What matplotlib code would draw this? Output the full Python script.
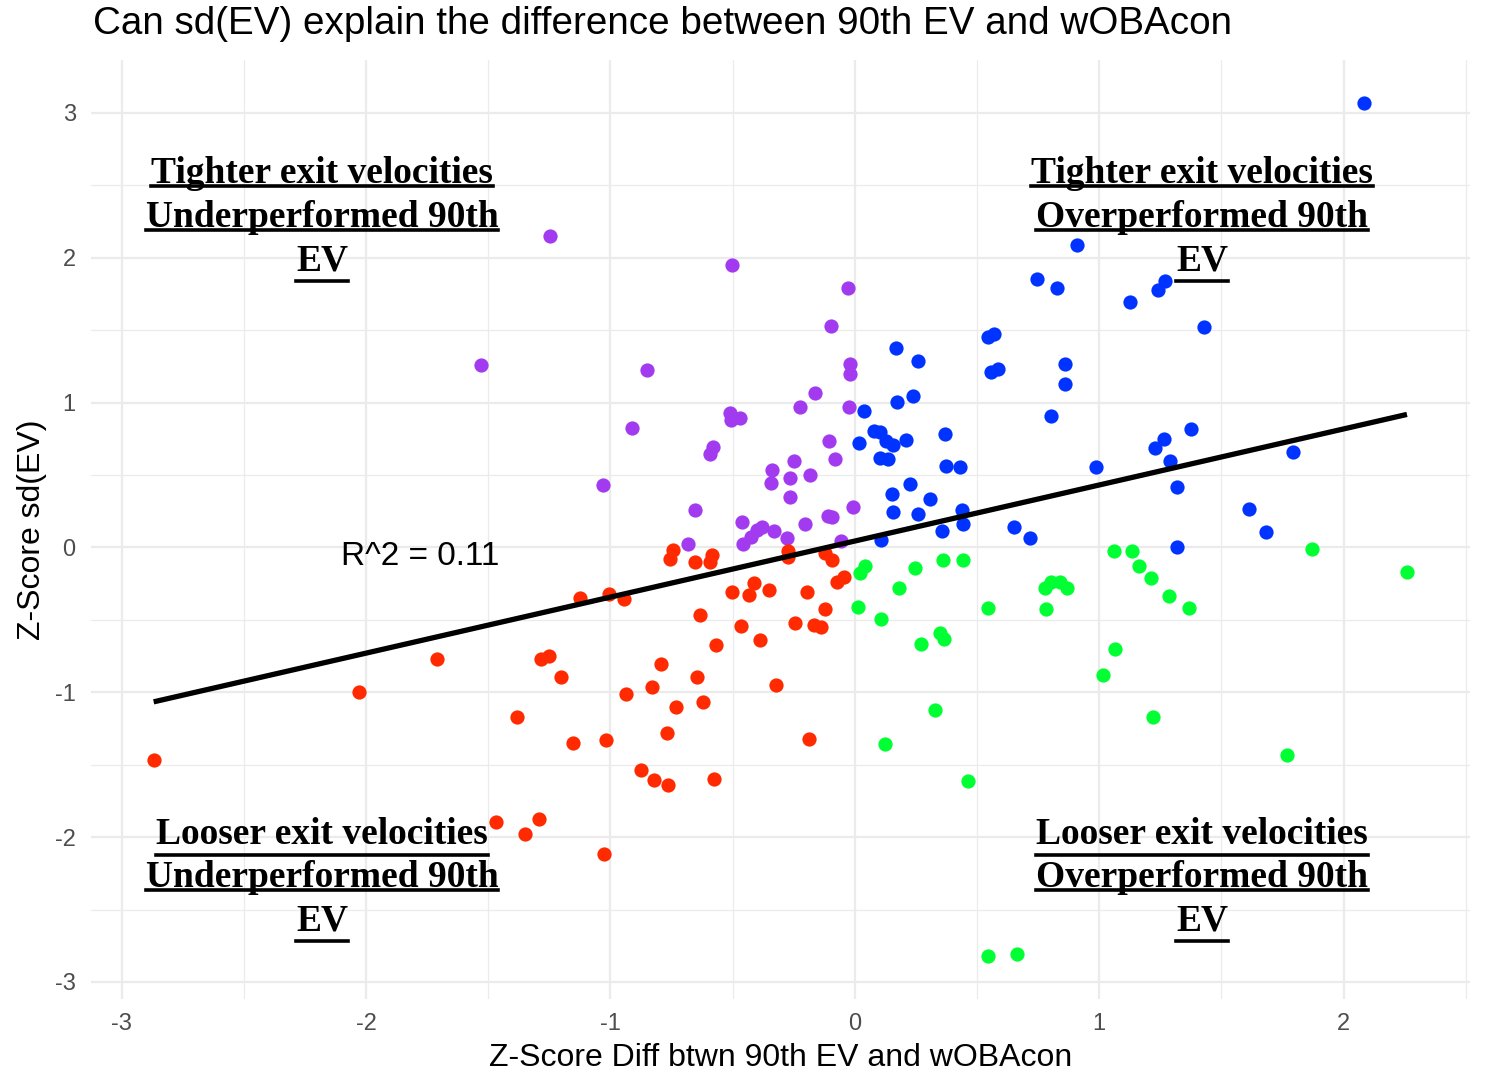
import matplotlib.pyplot as plt
from matplotlib.lines import Line2D
import numpy as np

plt.rcParams['axes.unicode_minus'] = False

# points, one group per quadrant colour
purple_x = [-1.246, -0.504, -0.029, -1.529, -0.098, -0.852, -0.020, -0.020, -0.910, -0.512,
            -0.508, -0.471, -0.164, -0.225, -0.025, -0.582, -0.594, -0.107, -0.340, -0.250,
            -0.082, -1.029, -0.184, -0.344, -0.266, -0.656, -0.266, -0.008, -0.463, -0.205,
            -0.111, -0.094, -0.332, -0.381, -0.402, -0.426, -0.459, -0.279, -0.684, -0.057]
purple_y = [2.152, 1.950, 1.793, 1.261, 1.530, 1.226, 1.268, 1.199, 0.826, 0.929,
            0.881, 0.894, 1.067, 0.971, 0.971, 0.694, 0.646, 0.736, 0.535, 0.597,
            0.611, 0.431, 0.500, 0.445, 0.480, 0.259, 0.348, 0.279, 0.175, 0.162,
            0.217, 0.210, 0.113, 0.141, 0.120, 0.072, 0.023, 0.065, 0.023, 0.044]

blue_x = [2.082, 0.258, 0.910, 0.746, 0.828, 1.127, 1.242, 1.270, 1.430, 0.168,
          0.545, 0.570, 0.557, 0.586, 0.861, 0.861, 0.238, 0.172, 0.037, 0.803,
          0.078, 0.102, 0.016, 0.127, 0.156, 0.209, 0.369, 1.377, 1.266, 1.230,
          1.791, 0.102, 0.135, 0.373, 0.430, 0.988, 1.291, 0.225, 1.320, 0.152,
          0.307, 0.156, 0.258, 0.439, 0.443, 0.357, 0.652, 0.717, 1.611, 1.684,
          0.107, 1.320]
blue_y = [3.071, 1.288, 2.091, 1.856, 1.794, 1.697, 1.780, 1.842, 1.523, 1.378,
          1.454, 1.475, 1.212, 1.233, 1.268, 1.129, 1.046, 1.005, 0.943, 0.908,
          0.805, 0.798, 0.722, 0.736, 0.708, 0.742, 0.784, 0.819, 0.749, 0.687,
          0.659, 0.619, 0.611, 0.563, 0.556, 0.556, 0.597, 0.438, 0.417, 0.369,
          0.335, 0.245, 0.231, 0.258, 0.162, 0.113, 0.141, 0.065, 0.265, 0.106,
          0.051, 0.003]

red_x = [-2.869, -2.029, -1.708, -1.383, -1.284, -1.253, -1.201, -1.153, -1.123, -1.469,
         -1.348, -1.291, -1.026, -1.007, -0.945, -0.743, -0.757, -0.656, -0.583, -0.593,
         -0.632, -0.570, -0.792, -0.645, -0.829, -0.936, -0.731, -0.622, -0.769, -1.020,
         -0.876, -0.822, -0.765, -0.577, -0.501, -0.433, -0.413, -0.351, -0.467, -0.388,
         -0.272, -0.273, -0.194, -0.245, -0.167, -0.139, -0.123, -0.321, -0.189, -0.122,
         -0.095, -0.044, -0.074]
red_y = [-1.469, -0.997, -0.771, -1.170, -0.773, -0.751, -0.894, -1.347, -0.352, -1.896,
         -1.979, -1.877, -2.120, -0.322, -0.357, -0.018, -0.078, -0.103, -0.053, -0.103,
         -0.467, -0.675, -0.808, -0.894, -0.967, -1.011, -1.105, -1.064, -1.278, -1.331,
         -1.538, -1.603, -1.642, -1.596, -0.306, -0.329, -0.244, -0.294, -0.545, -0.640,
         -0.023, -0.064, -0.308, -0.520, -0.538, -0.548, -0.428, -0.953, -1.326, -0.041,
         -0.087, -0.202, -0.241]

green_x = [1.059, 1.134, 1.869, 2.259, 1.164, 1.211, 1.284, 1.369, 0.019, 0.041,
           0.248, 0.361, 0.441, 0.181, 0.014, 0.109, 0.544, 0.780, 0.803, 0.838,
           0.870, 0.781, 0.350, 0.366, 0.272, 1.063, 1.014, 0.328, 1.220, 0.123,
           1.769, 0.461, 0.545, 0.663]
green_y = [-0.028, -0.028, -0.014, -0.168, -0.129, -0.214, -0.334, -0.417, -0.180, -0.129,
           -0.145, -0.085, -0.088, -0.283, -0.412, -0.493, -0.419, -0.281, -0.242, -0.237,
           -0.281, -0.422, -0.588, -0.629, -0.668, -0.698, -0.882, -1.120, -1.171, -1.359,
           -1.431, -1.615, -2.823, -2.809]

quad_labels = [
    ["Tighter exit velocities", "Underperformed 90th", "EV"],
    ["Tighter exit velocities", "Overperformed 90th", "EV"],
    ["Looser exit velocities", "Underperformed 90th", "EV"],
    ["Looser exit velocities", "Overperformed 90th", "EV"],
]

fig = plt.figure(figsize=(14.92, 10.9), dpi=100)
ax = fig.add_axes([0.061, 0.0835, 0.924, 0.8615])

ax.scatter(purple_x, purple_y, s=105, color='#A23AF0', linewidths=0, zorder=2)
ax.scatter(blue_x, blue_y, s=105, color='#0033FF', linewidths=0, zorder=2)
ax.scatter(red_x, red_y, s=105, color='#FF2A00', linewidths=0, zorder=2)
ax.scatter(green_x, green_y, s=105, color='#00FF33', linewidths=0, zorder=2)

# least squares line over the whole cloud (geom_smooth lm)
all_x = np.array(purple_x + blue_x + red_x + green_x)
all_y = np.array(purple_y + blue_y + red_y + green_y)
slope, icept = np.polyfit(all_x, all_y, 1)
xl = np.array([all_x.min(), all_x.max()])
ax.plot(xl, icept + slope*xl, color='black', lw=3.8, solid_capstyle='butt', zorder=3)

ax.set_xticks(np.arange(-3, 3, 1))
ax.set_xticks(np.arange(-2.5, 3, 1), minor=True)
ax.set_yticks(np.arange(-3, 4, 1))
ax.set_yticks(np.arange(-2.5, 3, 1), minor=True)
ax.grid(which='major', color='#EBEBEB', lw=1.6, zorder=0)
ax.grid(which='minor', color='#EBEBEB', lw=0.9, zorder=0)
ax.set_axisbelow(True)
for sp in ax.spines.values():
    sp.set_visible(False)
ax.tick_params(which='both', length=0, labelsize=17, labelcolor='#4D4D4D')
ax.tick_params(axis='x', pad=10)
ax.tick_params(axis='y', pad=11)
for lab in ax.get_xticklabels() + ax.get_yticklabels():
    lab.set_family('Liberation Sans')
ax.set_xlabel('Z-Score Diff btwn 90th EV and wOBAcon', fontsize=23, family='Liberation Sans', labelpad=6)
ax.set_ylabel('Z-Score sd(EV)', fontsize=23, family='Liberation Sans', labelpad=6)

fig.text(0.062, 1 - 24/1090, 'Can sd(EV) explain the difference between 90th EV and wOBAcon',
         fontsize=27.8, family='Liberation Sans', va='center', ha='left')

ax.text(-1.78, -0.06, 'R^2 = 0.11', fontsize=24, family='Liberation Sans', ha='center', va='center')

# quadrant captions, bold serif with underline
spots = [(-2.18, 2.215), (1.42, 2.215), (-2.18, -2.345), (1.42, -2.345)]
texts = []
for (qx, qy), lines in zip(spots, quad_labels):
    for i, s in enumerate(lines):
        t = ax.annotate(s, (qx, qy), xytext=(0, 31.3 - 31.3*i), textcoords='offset points',
                        ha='center', va='baseline', fontsize=27, fontweight='bold',
                        family='Liberation Serif', zorder=4)
        texts.append(t)

fig.canvas.draw()
rend = fig.canvas.get_renderer()
W, H = fig.get_size_inches() * fig.dpi
for t in texts:
    bb = t.get_window_extent(rend)
    # baseline sits above the descent part of the box
    _, _, descent = rend.get_text_width_height_descent(t.get_text(), t.get_fontproperties(), ismath=False)
    yb = bb.y0 + descent - 3
    fig.add_artist(Line2D([bb.x0/W, bb.x1/W], [yb/H, yb/H], color='black', lw=2.6))

fig.savefig('out.png', dpi=100)
